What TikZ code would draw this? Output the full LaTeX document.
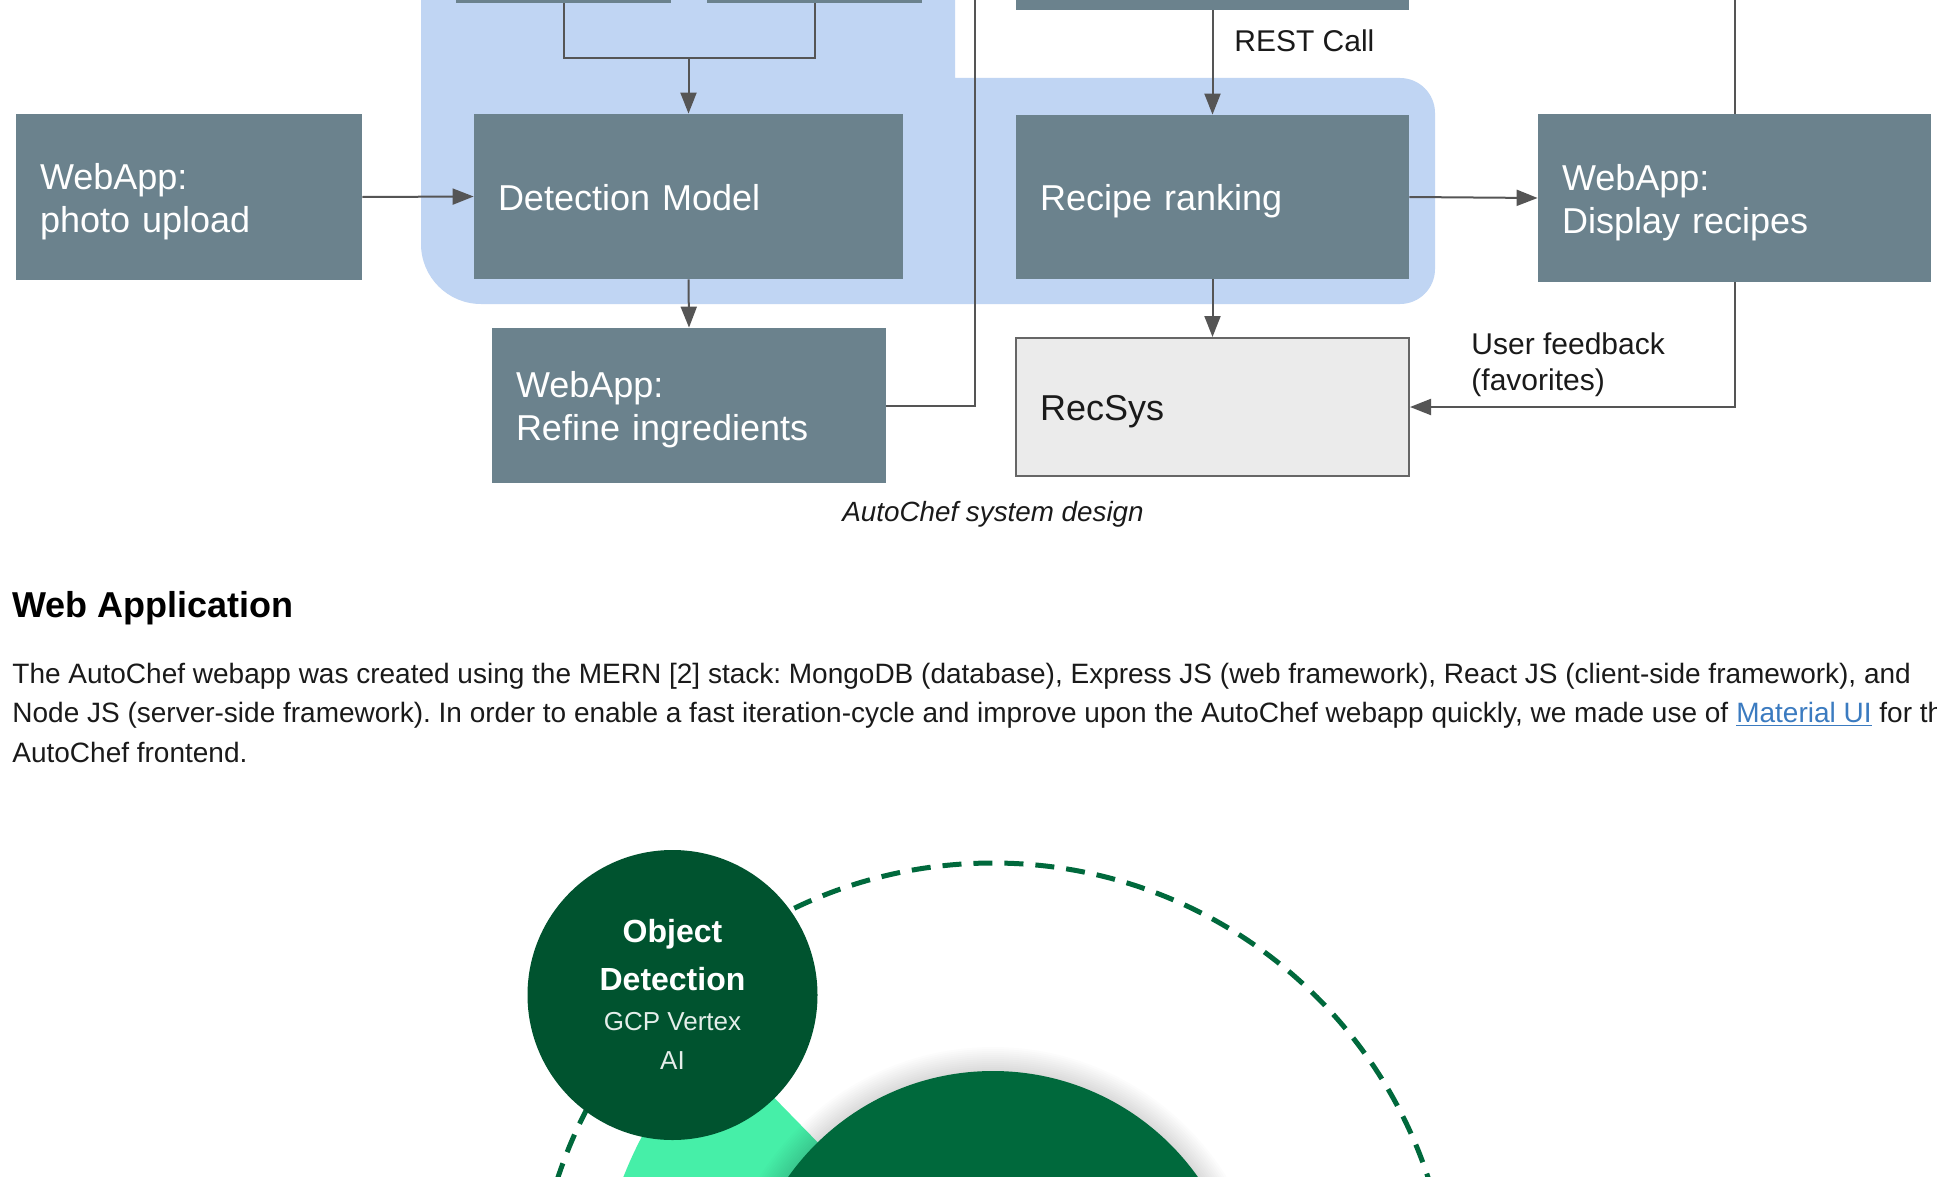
\documentclass[tikz,border=0pt]{standalone}
\usepackage{fontspec}
\setmainfont{Liberation Sans}
\usetikzlibrary{arrows.meta}
\definecolor{boxc}{HTML}{6B828D}
\definecolor{bluez}{HTML}{C0D5F3}
\definecolor{linec}{HTML}{555555}
\definecolor{rsfill}{HTML}{EBEBEB}
\definecolor{rsdraw}{HTML}{666666}
\definecolor{odgreen}{HTML}{00532F}
\definecolor{biggreen}{HTML}{00693C}
\definecolor{mintc}{HTML}{46EFA8}
\definecolor{dashgreen}{HTML}{00693C}
\definecolor{linkc}{HTML}{3B7BC0}
\definecolor{txtc}{HTML}{1A1A1A}
\frenchspacing
\begin{document}
\begin{tikzpicture}[x=0.5pt,y=-0.5pt,
  gbox/.style={fill=boxc, text=white, font=\fontsize{18pt}{21.5pt}\selectfont, align=left, inner xsep=12pt, inner ysep=0pt, anchor=center},
  oneline/.style={text height=13.7pt, text depth=0pt},
  twoline/.style={text height=0pt, text depth=7.6pt},
  rsbox/.style={gbox, fill=rsfill, draw=rsdraw, line width=1pt, text=txtc},
  stub/.style={fill=boxc, inner sep=0pt, anchor=center},
  conn/.style={draw=linec, line width=1pt},
  arr/.style={conn, -{Triangle[length=10.5pt,width=8pt]}},
  lbl/.style={text=txtc, inner sep=0pt, font=\fontsize{15pt}{18pt}\selectfont},
  para/.style={text=txtc, inner sep=0pt, anchor=base west, font=\fontsize{14pt}{16pt}\selectfont},
  odb/.style={text=white, inner sep=0pt, anchor=base, font=\bfseries\fontsize{16pt}{18pt}\selectfont},
  odr/.style={text=white!90!odgreen, inner sep=0pt, anchor=base, font=\fontsize{13pt}{15pt}\selectfont}]
\useasboundingbox (0,0) rectangle (1937,1177);
\clip (0,0) rectangle (1937,1177);
\fill[white] (0,0) rectangle (1937,1177);

% blue zone
\fill[bluez] (421,-10) -- (421,244) arc[start angle=180,end angle=90,radius=60]
  -- (1400,304) arc[start angle=90,end angle=0,radius=35]
  -- (1435,113) arc[start angle=0,end angle=-90,radius=35]
  -- (955,78) -- (955,-10) -- cycle;

% boxes
\node[stub, minimum width=107.5pt, minimum height=21.5pt] (topL) at (563.5,-18.5) {};
\node[stub, minimum width=107.5pt, minimum height=21.5pt] (topR) at (814.5,-18.5) {};
\node[stub, minimum width=196.5pt, minimum height=25pt] (topM) at (1212.5,-15) {};
\node[gbox, twoline, text width=149pt, minimum height=83pt] (photo) at (189,197) {WebApp:\\photo upload};
\node[gbox, oneline, text width=190.5pt, minimum height=82.5pt] (det) at (688.5,196.5) {Detection Model};
\node[gbox, oneline, text width=172.5pt, minimum height=82pt] (recipe) at (1212.5,197) {Recipe ranking};
\node[gbox, twoline, text width=172.5pt, minimum height=84pt] (display) at (1734.5,198) {WebApp:\\Display recipes};
\node[gbox, twoline, text width=173pt, minimum height=77.5pt] (refine) at (689,405.5) {WebApp:\\Refine ingredients};
\node[rsbox, oneline, text width=172.5pt, minimum height=69pt] (recsys) at (1212.5,407) {RecSys};

% connectors
\coordinate (join) at (688.5,58);
\coordinate (refup) at (975,-10);
\coordinate (dispup) at (1734.5,-10);
\draw[conn] (topL.south) |- (join) -| (topR.south);
\draw[arr] (join) -- (det.north);
\draw[arr] (photo.east) -- (det.west);
\draw[arr] (det.south) -- (refine.north);
\draw[conn] (refine.east) -| (refup);
\draw[arr] (topM.south) -- (recipe.north);
\draw[arr] (recipe.east) -- (display.west);
\draw[conn] (display.north) -- (dispup);
\draw[arr] (recipe.south) -- (recsys.north);
\draw[arr] (display.south) |- (recsys.east);

% labels
\node[lbl, anchor=west] (rest) at (1234,41) {REST Call};
\node[lbl, anchor=west, align=left] (fb) at (1471,365) {User feedback\\(favorites)};
\node[text=txtc, inner sep=0pt, anchor=base, font=\itshape\fontsize{13.9pt}{16pt}\selectfont] (cap) at (993,521) {AutoChef system design};

% text section
\node[text=black, inner sep=0pt, anchor=base west, font=\bfseries\fontsize{18pt}{20pt}\selectfont] (head) at (12,617) {Web Application};
\node[para] (p1) at (12,683) {The AutoChef webapp was created using the MERN [2] stack: MongoDB (database), Express JS (web framework), React JS (client-side framework), and};
\node[para] (p2) at (12,722.5) {Node JS (server-side framework). In order to enable a fast iteration-cycle and improve upon the AutoChef webapp quickly, we made use of \textcolor{linkc}{\underline{Material UI}} for the};
\node[para] (p3) at (12,762) {AutoChef frontend.};

% bottom graphic
\coordinate (C) at (993,1322);
\fill[mintc] (C) -- ++(-134.3:397) arc[start angle=-134.3, end angle=-220, radius=397] -- cycle;
\draw[dashgreen, line width=2.5pt, dash pattern=on 9.5pt off 6pt] (993,1321) circle[radius=458];
\foreach \k in {1,...,12} \fill[black, opacity=0.012] (C) circle[radius={251+2*\k}];
\node[circle, fill=biggreen, minimum size=251pt, inner sep=0pt] (big) at (C) {};
\node[circle, fill=odgreen, minimum size=145pt, inner sep=0pt] (od) at (672.5,995) {};
\node[odb] (od1) at (672.5,942) {Object};
\node[odb] (od2) at (672.5,990) {Detection};
\node[odr] (od3) at (672.5,1030) {GCP Vertex};
\node[odr] (od4) at (672.5,1069) {AI};
\end{tikzpicture}
\end{document}
